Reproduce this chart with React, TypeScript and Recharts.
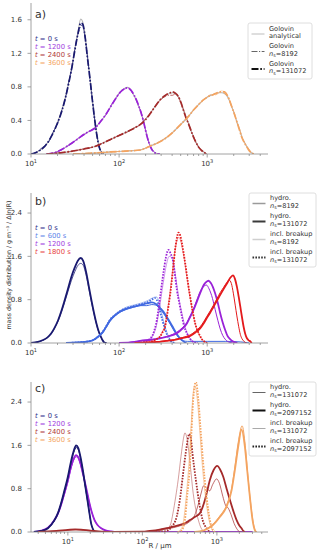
import React from 'react';
import { LineChart, Line, XAxis, YAxis } from 'recharts';

type Pt = [number, number];

// radius R in µm, mass density in g m^-3 / unit ln(R)

// ---- a) Golovin kernel: analytical solution and two super-droplet counts
const timesA = ['0', '1200', '2400', '3600'];

const golovinExact0: Pt[] = [[10, 0], [11, 0.01], [12.5, 0.04], [14.3, 0.09], [16, 0.16], [17.8, 0.25], [20, 0.38], [22.5, 0.53], [24.6, 0.68], [27, 0.87], [29.2, 1.05], [31.5, 1.25], [34.2, 1.46], [36.7, 1.61], [38.5, 1.58], [40.7, 1.45], [43.5, 1.18], [46.8, 0.9], [50, 0.62], [53.3, 0.38], [56, 0.22], [59.3, 0.09], [63, 0.02], [67, 0]];
const golovinExact1200: Pt[] = [[15, 0], [18, 0.012], [22, 0.05], [25.4, 0.088], [30, 0.14], [34, 0.18], [39.2, 0.227], [46, 0.27], [53.3, 0.31], [62, 0.39], [72.5, 0.485], [83, 0.59], [94, 0.685], [105, 0.75], [116, 0.785], [124, 0.795], [132, 0.78], [140, 0.74], [150, 0.68], [165, 0.585], [179, 0.48], [192, 0.365], [204, 0.245], [218, 0.14], [232, 0.07], [250, 0.025], [270, 0.005], [290, 0]];
const golovinExact2400: Pt[] = [[15, 0], [20, 0.01], [28, 0.03], [40, 0.06], [53, 0.09], [66, 0.13], [82, 0.18], [100, 0.22], [126, 0.27], [150, 0.31], [173, 0.35], [200, 0.415], [225, 0.486], [258, 0.57], [292, 0.645], [340, 0.7], [380, 0.725], [405, 0.73], [435, 0.715], [470, 0.68], [505, 0.61], [538, 0.525], [575, 0.44], [613, 0.366], [655, 0.28], [700, 0.207], [745, 0.14], [795, 0.088], [850, 0.05], [905, 0.028], [950, 0.01], [990, 0]];
const golovinExact3600: Pt[] = [[30, 0], [50, 0.01], [80, 0.025], [120, 0.035], [173, 0.048], [220, 0.09], [268, 0.128], [340, 0.19], [414, 0.266], [475, 0.33], [538, 0.386], [620, 0.455], [700, 0.525], [800, 0.59], [905, 0.645], [1010, 0.68], [1125, 0.704], [1240, 0.722], [1340, 0.73], [1470, 0.73], [1570, 0.72], [1670, 0.695], [1780, 0.64], [1900, 0.565], [2030, 0.48], [2170, 0.386], [2320, 0.3], [2470, 0.207], [2640, 0.14], [2820, 0.088], [3000, 0.045], [3090, 0.028], [3250, 0.008], [3370, 0]];

const golovinHi0: Pt[] = [[10, 0], [11, 0.01], [12.5, 0.04], [14.3, 0.09], [16, 0.16], [17.8, 0.25], [20, 0.37], [22.5, 0.52], [24.6, 0.67], [27, 0.86], [29.2, 1.04], [31.5, 1.24], [34.2, 1.44], [36.7, 1.56], [38.5, 1.55], [40.7, 1.43], [43.5, 1.17], [46.8, 0.89], [50, 0.62], [53.3, 0.38], [56, 0.22], [59.3, 0.09], [63, 0.02], [67, 0]];
const golovinHi1200: Pt[] = [[15, 0], [18, 0.012], [22, 0.05], [25.4, 0.09], [30, 0.14], [34, 0.18], [39.2, 0.23], [46, 0.27], [53.3, 0.31], [62, 0.39], [72.5, 0.49], [83, 0.59], [94, 0.68], [105, 0.745], [116, 0.78], [124, 0.79], [132, 0.775], [140, 0.745], [150, 0.69], [165, 0.59], [179, 0.48], [192, 0.36], [204, 0.24], [218, 0.135], [232, 0.065], [250, 0.02], [270, 0.004], [290, 0]];
const golovinHi2400: Pt[] = [[15, 0], [20, 0.01], [28, 0.03], [40, 0.06], [53, 0.09], [66, 0.13], [82, 0.18], [100, 0.22], [126, 0.27], [150, 0.31], [173, 0.35], [200, 0.41], [225, 0.48], [258, 0.57], [292, 0.645], [340, 0.705], [380, 0.73], [405, 0.74], [435, 0.725], [470, 0.685], [505, 0.61], [538, 0.52], [575, 0.43], [613, 0.36], [655, 0.28], [700, 0.2], [745, 0.14], [795, 0.085], [850, 0.05], [905, 0.025], [950, 0.01], [990, 0]];
const golovinHi3600: Pt[] = [[30, 0], [50, 0.01], [80, 0.025], [120, 0.035], [173, 0.048], [220, 0.09], [268, 0.128], [340, 0.19], [414, 0.266], [475, 0.33], [538, 0.386], [620, 0.455], [700, 0.525], [800, 0.59], [905, 0.645], [1010, 0.68], [1125, 0.7], [1240, 0.72], [1340, 0.735], [1470, 0.745], [1570, 0.74], [1670, 0.71], [1780, 0.645], [1900, 0.565], [2030, 0.48], [2170, 0.386], [2320, 0.29], [2470, 0.2], [2640, 0.135], [2820, 0.085], [3000, 0.04], [3090, 0.025], [3250, 0.008], [3370, 0]];

const golovinLo0: Pt[] = [[10, 0], [11, 0.01], [12.5, 0.05], [14.3, 0.1], [16, 0.15], [17.8, 0.26], [20, 0.36], [22.5, 0.53], [24.6, 0.66], [27, 0.88], [29.2, 1.03], [31.5, 1.26], [34.2, 1.43], [36.7, 1.52], [38.5, 1.54], [40.7, 1.41], [43.5, 1.19], [46.8, 0.87], [50, 0.63], [53.3, 0.37], [56, 0.23], [59.3, 0.08], [63, 0.03], [67, 0]];
const golovinLo1200: Pt[] = [[15, 0], [18, 0.015], [22, 0.045], [25.4, 0.09], [30, 0.135], [34, 0.185], [39.2, 0.22], [46, 0.275], [53.3, 0.305], [62, 0.395], [72.5, 0.48], [83, 0.6], [94, 0.675], [105, 0.755], [116, 0.775], [124, 0.785], [132, 0.785], [140, 0.735], [150, 0.695], [165, 0.575], [179, 0.49], [192, 0.355], [204, 0.25], [218, 0.13], [232, 0.075], [250, 0.02], [270, 0.006], [290, 0]];
const golovinLo2400: Pt[] = [[15, 0], [20, 0.012], [28, 0.028], [40, 0.062], [53, 0.088], [66, 0.135], [82, 0.175], [100, 0.225], [126, 0.265], [150, 0.315], [173, 0.345], [200, 0.42], [225, 0.48], [258, 0.575], [292, 0.64], [340, 0.69], [380, 0.7], [405, 0.7], [435, 0.72], [470, 0.69], [505, 0.6], [538, 0.53], [575, 0.43], [613, 0.37], [655, 0.27], [700, 0.21], [745, 0.135], [795, 0.09], [850, 0.045], [905, 0.03], [950, 0.008], [990, 0]];
const golovinLo3600: Pt[] = [[30, 0], [50, 0.012], [80, 0.022], [120, 0.037], [173, 0.045], [220, 0.092], [268, 0.125], [340, 0.195], [414, 0.26], [475, 0.335], [538, 0.38], [620, 0.46], [700, 0.52], [800, 0.595], [905, 0.64], [1010, 0.685], [1125, 0.71], [1240, 0.705], [1340, 0.725], [1470, 0.755], [1570, 0.72], [1670, 0.7], [1780, 0.66], [1900, 0.555], [2030, 0.49], [2170, 0.375], [2320, 0.305], [2470, 0.2], [2640, 0.145], [2820, 0.08], [3000, 0.05], [3090, 0.025], [3250, 0.01], [3370, 0]];

// ---- b) hydrodynamic kernel, with and without breakup
const timesB = ['0', '600', '1200', '1800'];

const hydroHiB0: Pt[] = [[10, 0], [12, 0.02], [13.7, 0.055], [15.3, 0.1], [17, 0.18], [18.5, 0.28], [20.3, 0.42], [22.2, 0.6], [24.1, 0.79], [26.3, 1.0], [28.7, 1.22], [31.5, 1.4], [34, 1.52], [36.7, 1.57], [39, 1.52], [42.5, 1.29], [45.5, 1.03], [48.5, 0.79], [52, 0.55], [55.3, 0.36], [58.5, 0.22], [62, 0.12], [65, 0.05], [68, 0.01], [72, 0]];
const hydroLoB0: Pt[] = [[10, 0], [12, 0.02], [13.7, 0.05], [15.3, 0.1], [17, 0.17], [18.5, 0.27], [20.3, 0.4], [22.2, 0.57], [24.1, 0.75], [26.3, 0.95], [28.7, 1.15], [31.5, 1.32], [34, 1.43], [36.7, 1.47], [39, 1.44], [42.5, 1.23], [45.5, 0.99], [48.5, 0.76], [52, 0.53], [55.3, 0.35], [58.5, 0.21], [62, 0.11], [65, 0.05], [68, 0.01], [72, 0]];

const hydroHiB600: Pt[] = [[25, 0], [33, 0.01], [45, 0.03], [51, 0.055], [58, 0.12], [66, 0.21], [72, 0.31], [79, 0.42], [90, 0.51], [103, 0.58], [120, 0.63], [146, 0.67], [175, 0.7], [206, 0.73], [235, 0.75], [262, 0.72], [290, 0.65], [318, 0.58], [348, 0.48], [380, 0.38], [415, 0.27], [453, 0.16], [495, 0.08], [538, 0.03], [580, 0]];
const hydroLoB600: Pt[] = [[25, 0], [33, 0.01], [45, 0.03], [51, 0.05], [58, 0.11], [66, 0.2], [72, 0.3], [79, 0.4], [90, 0.5], [103, 0.57], [120, 0.62], [146, 0.66], [175, 0.69], [206, 0.69], [235, 0.71], [262, 0.7], [290, 0.63], [318, 0.55], [348, 0.45], [380, 0.35], [415, 0.24], [453, 0.14], [495, 0.07], [538, 0.04], [600, 0.03], [1000, 0.03], [1600, 0.03], [2400, 0.02], [3000, 0]];
const breakHiB600: Pt[] = [[25, 0], [33, 0.01], [45, 0.03], [51, 0.055], [58, 0.12], [66, 0.22], [72, 0.32], [79, 0.43], [90, 0.52], [103, 0.59], [120, 0.64], [146, 0.68], [180, 0.72], [215, 0.76], [240, 0.81], [256, 0.83], [275, 0.75], [292, 0.58], [310, 0.42], [333, 0.25], [355, 0.13], [380, 0.05], [410, 0.01], [440, 0]];
const breakLoB600: Pt[] = [[25, 0], [33, 0.01], [45, 0.03], [51, 0.06], [58, 0.13], [66, 0.23], [72, 0.33], [79, 0.44], [90, 0.53], [103, 0.6], [120, 0.66], [146, 0.7], [180, 0.74], [215, 0.79], [245, 0.84], [265, 0.85], [285, 0.76], [300, 0.6], [318, 0.42], [340, 0.25], [365, 0.12], [390, 0.04], [420, 0]];

const hydroHiB1200: Pt[] = [[100, 0], [150, 0.02], [173, 0.04], [230, 0.06], [292, 0.087], [360, 0.12], [453, 0.18], [520, 0.26], [588, 0.36], [640, 0.48], [699, 0.61], [765, 0.77], [832, 0.92], [920, 1.08], [1000, 1.14], [1035, 1.15], [1100, 1.11], [1230, 0.92], [1320, 0.74], [1405, 0.55], [1500, 0.38], [1600, 0.24], [1700, 0.13], [1820, 0.07], [1950, 0.03], [2090, 0.01], [2200, 0]];
const hydroLoB1200: Pt[] = [[100, 0], [150, 0.02], [173, 0.04], [230, 0.06], [292, 0.09], [360, 0.13], [453, 0.2], [520, 0.28], [588, 0.38], [640, 0.5], [699, 0.63], [765, 0.8], [832, 0.95], [920, 1.05], [980, 1.07], [1050, 1.0], [1150, 0.82], [1230, 0.62], [1320, 0.42], [1405, 0.26], [1500, 0.14], [1600, 0.07], [1700, 0.03], [1820, 0.01], [1950, 0]];
const breakHiB1200: Pt[] = [[150, 0], [190, 0.02], [216, 0.055], [245, 0.18], [268, 0.42], [292, 0.85], [318, 1.29], [340, 1.58], [363, 1.72], [385, 1.65], [414, 1.47], [435, 1.2], [453, 0.98], [485, 0.72], [517, 0.49], [550, 0.3], [588, 0.18], [630, 0.09], [670, 0.04], [720, 0.01], [780, 0]];
const breakLoB1200: Pt[] = [[150, 0], [190, 0.02], [216, 0.05], [245, 0.15], [268, 0.35], [292, 0.72], [318, 1.12], [345, 1.45], [370, 1.6], [395, 1.58], [420, 1.42], [450, 1.1], [480, 0.8], [517, 0.55], [550, 0.35], [588, 0.2], [630, 0.1], [670, 0.04], [720, 0.01], [780, 0]];

const hydroHiB1800: Pt[] = [[150, 0], [200, 0.01], [268, 0.02], [340, 0.04], [414, 0.055], [520, 0.09], [641, 0.13], [740, 0.2], [832, 0.27], [910, 0.36], [990, 0.46], [1080, 0.56], [1180, 0.67], [1290, 0.78], [1406, 0.89], [1540, 1.0], [1675, 1.1], [1820, 1.2], [1960, 1.25], [2070, 1.18], [2172, 1.04], [2280, 0.85], [2377, 0.67], [2480, 0.48], [2590, 0.3], [2700, 0.17], [2825, 0.087], [2950, 0.05], [3090, 0.03], [3200, 0]];
const hydroLoB1800: Pt[] = [[150, 0], [200, 0.01], [268, 0.02], [340, 0.04], [414, 0.06], [520, 0.1], [641, 0.15], [740, 0.22], [832, 0.3], [910, 0.39], [990, 0.49], [1080, 0.59], [1180, 0.7], [1290, 0.82], [1406, 0.93], [1540, 1.03], [1675, 1.12], [1780, 1.16], [1880, 1.1], [1980, 0.92], [2080, 0.7], [2172, 0.5], [2280, 0.3], [2377, 0.16], [2480, 0.08], [2590, 0.04], [2700, 0.01], [2800, 0]];
const breakHiB1800: Pt[] = [[200, 0], [245, 0.04], [270, 0.08], [292, 0.12], [312, 0.2], [333, 0.3], [348, 0.48], [363, 0.67], [380, 0.9], [397, 1.16], [415, 1.45], [432, 1.72], [452, 1.93], [472, 2.04], [495, 1.98], [517, 1.84], [540, 1.66], [563, 1.47], [600, 1.15], [641, 0.85], [685, 0.58], [731, 0.36], [780, 0.22], [832, 0.13], [870, 0.07], [908, 0.04], [960, 0.01], [1000, 0]];
const breakLoB1800: Pt[] = [[200, 0], [245, 0.04], [270, 0.08], [292, 0.13], [312, 0.22], [333, 0.34], [348, 0.52], [363, 0.72], [380, 0.95], [397, 1.22], [415, 1.5], [432, 1.72], [452, 1.88], [475, 1.95], [498, 1.9], [520, 1.76], [545, 1.58], [570, 1.38], [605, 1.08], [645, 0.8], [690, 0.54], [735, 0.34], [785, 0.2], [835, 0.11], [880, 0.06], [920, 0.03], [970, 0.01], [1010, 0]];

// ---- c) hydrodynamic kernel, more super-droplets
const timesC = ['0', '1200', '2400', '3600'];

const hydroHiC0: Pt[] = [[3.5, 0], [4.4, 0.02], [5.4, 0.07], [6.6, 0.22], [7.4, 0.36], [8.1, 0.53], [9, 0.77], [10, 1.02], [11, 1.3], [12, 1.5], [12.9, 1.6], [13.8, 1.55], [14.8, 1.38], [15.9, 1.14], [17.2, 0.83], [18.6, 0.53], [19.6, 0.32], [20.5, 0.16], [21.6, 0.06], [22.8, 0.01], [24, 0]];
const hydroLoC0: Pt[] = [[3.5, 0], [4.4, 0.02], [5.4, 0.07], [6.6, 0.21], [7.4, 0.35], [8.1, 0.52], [9, 0.75], [10, 1.0], [11, 1.27], [12, 1.47], [12.9, 1.56], [13.8, 1.52], [14.8, 1.36], [15.9, 1.12], [17.2, 0.82], [18.6, 0.52], [19.6, 0.32], [20.5, 0.16], [21.6, 0.06], [22.8, 0.01], [24, 0]];
const hydroHiC1200: Pt[] = [[3.5, 0], [4.4, 0.025], [5.4, 0.08], [6.6, 0.22], [7.4, 0.35], [8.1, 0.5], [9, 0.72], [10, 0.95], [11, 1.2], [12, 1.36], [12.9, 1.42], [13.8, 1.38], [14.8, 1.26], [15.9, 1.08], [17.2, 0.88], [18.5, 0.68], [19.5, 0.53], [21, 0.36], [22.8, 0.22], [25, 0.13], [28, 0.07], [32, 0.03], [38, 0.01], [45, 0], [3000, 0]];
const hydroLoC1200: Pt[] = [[3.5, 0], [4.4, 0.025], [5.4, 0.08], [6.6, 0.21], [7.4, 0.34], [8.1, 0.49], [9, 0.7], [10, 0.93], [11, 1.17], [12, 1.33], [12.9, 1.39], [13.8, 1.36], [14.8, 1.24], [15.9, 1.07], [17.2, 0.87], [18.5, 0.67], [19.5, 0.53], [21, 0.36], [22.8, 0.22], [25, 0.13], [28, 0.07], [32, 0.03], [38, 0.01], [45, 0], [3000, 0]];

const hydroHiC2400: Pt[] = [[4, 0], [7, 0.02], [10, 0.04], [12.5, 0.05], [15, 0.045], [20, 0.025], [28, 0.008], [40, 0], [100, 0.005], [126, 0.02], [170, 0.045], [211, 0.07], [260, 0.1], [320, 0.13], [380, 0.17], [435, 0.22], [510, 0.28], [590, 0.345], [640, 0.45], [690, 0.59], [745, 0.77], [805, 0.96], [900, 1.14], [1010, 1.22], [1100, 1.16], [1217, 1.02], [1350, 0.8], [1495, 0.59], [1660, 0.39], [1838, 0.22], [2000, 0.12], [2140, 0.07], [2260, 0.02], [2375, 0]];
const hydroLoC2400: Pt[] = [[4, 0], [10, 0.03], [13, 0.04], [20, 0.02], [35, 0], [150, 0.01], [200, 0.05], [260, 0.08], [330, 0.12], [420, 0.18], [500, 0.3], [560, 0.5], [615, 0.72], [660, 0.85], [720, 0.82], [800, 0.76], [880, 0.88], [990, 0.98], [1080, 0.9], [1200, 0.66], [1300, 0.5], [1420, 0.44], [1550, 0.32], [1700, 0.16], [1850, 0.06], [2000, 0.01], [2150, 0]];
const breakHiC2400: Pt[] = [[150, 0], [211, 0.02], [247, 0.1], [288, 0.28], [318, 0.59], [352, 1.08], [392, 1.57], [425, 1.81], [448, 1.72], [470, 1.45], [522, 0.96], [580, 0.53], [643, 0.22], [727, 0.07], [800, 0]];
const breakLoC2400: Pt[] = [[120, 0], [150, 0.01], [190, 0.06], [215, 0.06], [240, 0.15], [257, 0.345], [280, 0.65], [302, 0.96], [330, 1.4], [355, 1.72], [372, 1.83], [400, 1.7], [436, 1.27], [481, 0.71], [520, 0.42], [564, 0.22], [610, 0.08], [660, 0.02], [720, 0]];

const hydroHiC3600: Pt[] = [[500, 0], [590, 0.01], [727, 0.05], [890, 0.13], [1100, 0.28], [1350, 0.47], [1574, 0.77], [1740, 1.14], [1930, 1.57], [2143, 1.89], [2375, 1.57], [2550, 1.14], [2770, 0.65], [3010, 0.22], [3240, 0.03], [3400, 0]];
const hydroLoC3600: Pt[] = [[500, 0], [600, 0.01], [727, 0.06], [890, 0.15], [1100, 0.3], [1350, 0.5], [1574, 0.8], [1740, 1.2], [1930, 1.65], [2180, 1.96], [2400, 1.6], [2580, 1.1], [2800, 0.6], [3050, 0.2], [3280, 0.02], [3400, 0]];
const breakHiC3600: Pt[] = [[300, 0], [336, 0.03], [372, 0.22], [398, 0.65], [436, 1.27], [457, 1.88], [481, 2.44], [522, 2.77], [564, 2.44], [605, 1.88], [655, 1.27], [727, 0.65], [805, 0.22], [890, 0.03], [950, 0]];
const breakLoC3600: Pt[] = [[290, 0], [325, 0.04], [360, 0.25], [390, 0.7], [425, 1.35], [450, 1.95], [475, 2.5], [505, 2.7], [545, 2.45], [590, 1.85], [640, 1.2], [710, 0.6], [790, 0.2], [870, 0.03], [930, 0]];

// axis ticks
const ticksAB = [10, 20, 30, 40, 50, 60, 70, 80, 90, 100, 200, 300, 400, 500, 600, 700, 800, 900, 1000, 2000, 3000, 4000];
const ticksC = [4, 5, 6, 7, 8, 9, ...ticksAB];
const yTicksA = [0, 0.4, 0.8, 1.2, 1.6];
const yTicksBC = [0, 0.8, 1.6, 2.4];

const NAVY = '#191970';
const VIOLET = '#9a22d8';
const BROWN = '#a52a2a';
const SANDY = '#f4a460';
const BLUE = '#4169e1';
const RED = '#e41a1c';

const AX = '#8c8c8c';
const TXT = '#333';
const FONT = '"DejaVu Sans", sans-serif';

type Series = { pts: Pt[]; color: string; w: number; dash?: string; op?: number };

const DASHDOT_THIN = '6 1.5 1.2 1.5';
const DASHDOT_THICK = '7 1.8 1.6 1.8';
const DOTTED = '1.6 1.3';

const colorsA = [NAVY, VIOLET, BROWN, SANDY];

const seriesA: Series[] = [
  ...[golovinExact0, golovinExact1200, golovinExact2400, golovinExact3600].map((pts) => ({ pts, color: '#b4b4b4', w: 1.1 })),
  ...[golovinLo0, golovinLo1200, golovinLo2400, golovinLo3600].map((pts, i) => ({ pts, color: colorsA[i], w: 0.9, dash: DASHDOT_THIN, op: 0.8 })),
  ...[golovinHi0, golovinHi1200, golovinHi2400, golovinHi3600].map((pts, i) => ({ pts, color: colorsA[i], w: 1.7, dash: DASHDOT_THICK })),
];

const seriesB: Series[] = [
  { pts: hydroLoB0, color: NAVY, w: 1, op: 0.75 },
  { pts: hydroHiB0, color: NAVY, w: 1.8 },
  { pts: breakLoB600, color: BLUE, w: 1, op: 0.45 },
  { pts: hydroLoB600, color: BLUE, w: 1 },
  { pts: hydroHiB600, color: BLUE, w: 1.8 },
  { pts: breakHiB600, color: BLUE, w: 1.8, dash: DOTTED },
  { pts: breakLoB1200, color: VIOLET, w: 1, op: 0.45 },
  { pts: hydroLoB1200, color: VIOLET, w: 1 },
  { pts: hydroHiB1200, color: VIOLET, w: 1.8 },
  { pts: breakHiB1200, color: VIOLET, w: 1.8, dash: DOTTED },
  { pts: breakLoB1800, color: RED, w: 1, op: 0.45 },
  { pts: hydroLoB1800, color: RED, w: 1 },
  { pts: hydroHiB1800, color: RED, w: 1.8 },
  { pts: breakHiB1800, color: RED, w: 1.8, dash: DOTTED },
];

const seriesC: Series[] = [
  { pts: hydroLoC1200, color: VIOLET, w: 1 },
  { pts: hydroHiC1200, color: VIOLET, w: 1.8 },
  { pts: hydroLoC0, color: NAVY, w: 1 },
  { pts: hydroHiC0, color: NAVY, w: 1.8 },
  { pts: breakLoC2400, color: BROWN, w: 1, op: 0.45 },
  { pts: hydroLoC2400, color: BROWN, w: 1, op: 0.7 },
  { pts: hydroHiC2400, color: BROWN, w: 1.8 },
  { pts: breakHiC2400, color: BROWN, w: 1.8, dash: DOTTED },
  { pts: breakLoC3600, color: SANDY, w: 1, op: 0.55 },
  { pts: hydroLoC3600, color: SANDY, w: 1 },
  { pts: hydroHiC3600, color: SANDY, w: 1.8 },
  { pts: breakHiC3600, color: SANDY, w: 1.8, dash: DOTTED },
];

const rows = (pts: Pt[]) => pts.map(([r, v]) => ({ r, v }));

function LogTick(props: any) {
  const { x, y, payload } = props;
  const lg = Math.log10(payload.value);
  const e = Math.round(lg);
  const major = Math.abs(lg - e) < 1e-6;
  return (
    <g>
      <line x1={x} x2={x} y1={y} y2={y + (major ? 3.5 : 2)} stroke={AX} strokeWidth={0.8} />
      {major && (
        <text x={x} y={y + 12} textAnchor="middle" fontSize={7} fill={TXT} fontFamily={FONT}>
          10<tspan dy={-3} fontSize={5}>{e}</tspan>
        </text>
      )}
    </g>
  );
}

function ValTick(props: any) {
  const { x, y, payload } = props;
  return (
    <g>
      <line x1={x - 3.5} x2={x} y1={y} y2={y} stroke={AX} strokeWidth={0.8} />
      <text x={x - 9} y={y} dy="0.35em" textAnchor="end" fontSize={7} fill={TXT} fontFamily={FONT}>
        {Number(payload.value).toFixed(1)}
      </text>
    </g>
  );
}

function Panel({ top, height, xDomain, xTicks, yDomain, yTicks, series }: {
  top: number; height: number; xDomain: [number, number]; xTicks: number[];
  yDomain: [number, number]; yTicks: number[]; series: Series[];
}) {
  return (
    <div style={{ position: 'absolute', left: 0, top }}>
      <LineChart width={320} height={height} margin={{ top: 3, right: 52, bottom: 3, left: 0 }}>
        <XAxis type="number" dataKey="r" scale="log" domain={xDomain} allowDataOverflow ticks={xTicks} interval={0}
          tick={<LogTick />} tickLine={false} tickSize={0} tickMargin={0} height={18} axisLine={{ stroke: AX, strokeWidth: 0.8 }} />
        <YAxis type="number" domain={yDomain} allowDataOverflow ticks={yTicks} interval={0} width={31}
          tick={<ValTick />} tickLine={false} tickSize={0} tickMargin={0} axisLine={{ stroke: AX, strokeWidth: 0.8 }} />
        {series.map((s, i) => (
          <Line key={i} data={rows(s.pts)} dataKey="v" type="monotone" stroke={s.color} strokeWidth={s.w}
            strokeDasharray={s.dash} strokeOpacity={s.op ?? 1} dot={false} activeDot={false} isAnimationActive={false} />
        ))}
      </LineChart>
    </div>
  );
}

type LegendItem = { head: string; ns?: string; color: string; w: number; dash?: string };

function LegendBox({ x, y, w, h, items, first, step }: { x: number; y: number; w: number; h: number; items: LegendItem[]; first: number; step: number }) {
  return (
    <g fontFamily={FONT} fontSize={6.6} fill={TXT}>
      <rect x={x} y={y} width={w} height={h} rx={2} fill="#fff" fillOpacity={0.85} stroke="#d6d6d6" strokeWidth={0.8} />
      {items.map((it, i) => {
        const yc = first + i * step;
        return (
          <g key={i}>
            <line x1={x + 3.5} x2={x + 16.5} y1={yc + 1.5} y2={yc + 1.5} stroke={it.color} strokeWidth={it.w} strokeDasharray={it.dash} />
            <text x={x + 21} y={yc - 3.8} dominantBaseline="central">{it.head}</text>
            <text x={x + 21} y={yc + 3.8} dominantBaseline="central">
              {it.ns ? (
                <>
                  <tspan fontStyle="italic">n</tspan>
                  <tspan fontSize={4.8} dy={1.4}>s</tspan>
                  <tspan dy={-1.4}>={it.ns}</tspan>
                </>
              ) : 'analytical'}
            </text>
          </g>
        );
      })}
    </g>
  );
}

function TimeLabels({ x, ys, times, colors }: { x: number; ys: number[]; times: string[]; colors: string[] }) {
  return (
    <g fontFamily={FONT} fontSize={6.8}>
      {times.map((t, i) => (
        <text key={t} x={x} y={ys[i]} dominantBaseline="central" fill={colors[i]}>
          <tspan fontStyle="italic">t</tspan> = {t} s
        </text>
      ))}
    </g>
  );
}

export default function App() {
  return (
    <div style={{ position: 'absolute', left: 0, top: 0, width: 320, height: 557, background: '#fff', fontFamily: FONT }}>
      <Panel top={0} height={175} xDomain={[10, 4900]} xTicks={ticksAB} yDomain={[0, 1.8]} yTicks={yTicksA} series={seriesA} />
      <Panel top={190} height={174} xDomain={[10, 4900]} xTicks={ticksAB} yDomain={[0, 2.77]} yTicks={yTicksBC} series={seriesB} />
      <Panel top={379} height={174} xDomain={[3.2, 4850]} xTicks={ticksC} yDomain={[0, 2.77]} yTicks={yTicksBC} series={seriesC} />
      <svg width={320} height={557} style={{ position: 'absolute', left: 0, top: 0, pointerEvents: 'none' }}>
        <g fontFamily={FONT} fill={TXT}>
          <text x={35} y={14} fontSize={11} dominantBaseline="central">a)</text>
          <text x={35} y={201} fontSize={11} dominantBaseline="central">b)</text>
          <text x={35} y={388} fontSize={11} dominantBaseline="central">c)</text>
          <text x={160} y={546} fontSize={7} textAnchor="middle" dominantBaseline="central">R / µm</text>
          <text x={8} y={265} fontSize={6.3} textAnchor="middle" dominantBaseline="central" transform="rotate(-90 8 265)">
            mass density distribution / g m⁻³ / Δln(R)
          </text>
        </g>
        <TimeLabels x={35} ys={[39, 47, 55, 63]} times={timesA} colors={['#2e2e8a', '#a03ce0', '#b03a3a', SANDY]} />
        <TimeLabels x={35} ys={[228, 236, 244, 252]} times={timesB} colors={['#2e2e8a', '#5a82e8', '#a03ce0', '#e84444']} />
        <TimeLabels x={35} ys={[416, 424, 432, 440]} times={timesC} colors={['#2e2e8a', '#a03ce0', '#b03a3a', SANDY]} />
        <LegendBox x={248} y={23} w={64} h={56} first={32.5} step={17.5} items={[
          { head: 'Golovin', color: '#bdbdbd', w: 1 },
          { head: 'Golovin', ns: '8192', color: '#555', w: 0.9, dash: DASHDOT_THIN },
          { head: 'Golovin', ns: '131072', color: '#111', w: 1.8, dash: DASHDOT_THICK },
        ]} />
        <LegendBox x={249} y={193} w={67} h={74} first={202} step={18} items={[
          { head: 'hydro.', ns: '8192', color: '#9a9a9a', w: 1.5 },
          { head: 'hydro.', ns: '131072', color: '#3a3a3a', w: 2 },
          { head: 'incl. breakup', ns: '8192', color: '#cfcfcf', w: 1.5 },
          { head: 'incl. breakup', ns: '131072', color: '#333', w: 2, dash: DOTTED },
        ]} />
        <LegendBox x={249} y={382} w={67} h={74} first={391} step={18} items={[
          { head: 'hydro.', ns: '131072', color: '#666', w: 1 },
          { head: 'hydro.', ns: '2097152', color: '#111', w: 2 },
          { head: 'incl. breakup', ns: '131072', color: '#aaa', w: 1 },
          { head: 'incl. breakup', ns: '2097152', color: '#222', w: 2, dash: DOTTED },
        ]} />
      </svg>
    </div>
  );
}
